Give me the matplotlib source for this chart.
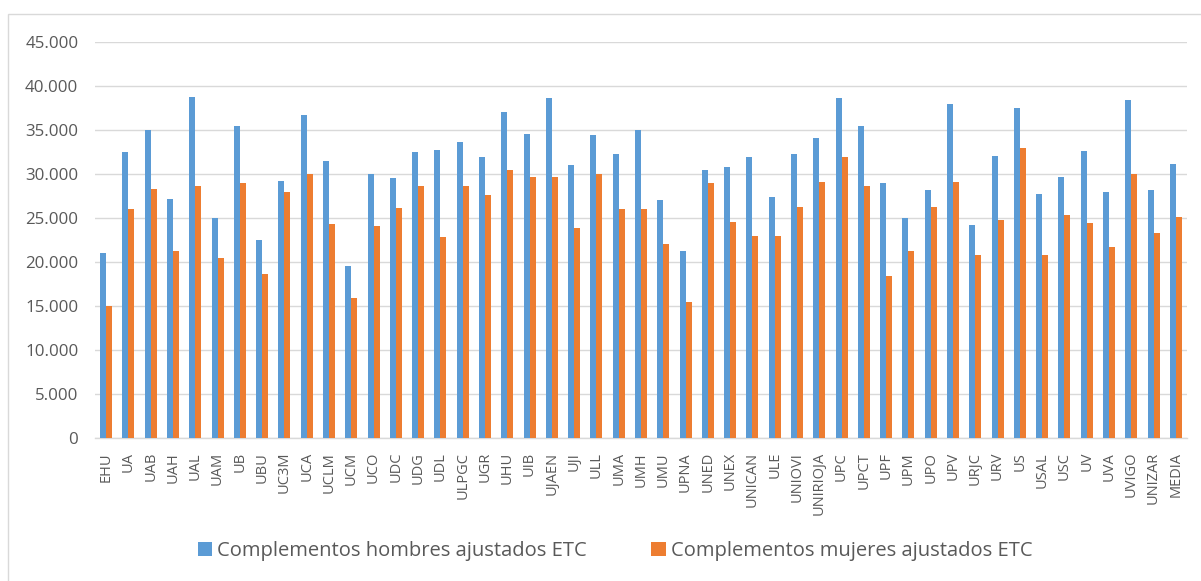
import numpy as np
import matplotlib.pyplot as plt
from matplotlib.patches import Rectangle

plt.rcParams['font.family'] = ['Open Sans', 'DejaVu Sans']

universidades = ["EHU", "UA", "UAB", "UAH", "UAL", "UAM", "UB", "UBU", "UC3M", "UCA",
                 "UCLM", "UCM", "UCO", "UDC", "UDG", "UDL", "ULPGC", "UGR", "UHU", "UIB",
                 "UJAEN", "UJI", "ULL", "UMA", "UMH", "UMU", "UPNA", "UNED", "UNEX", "UNICAN",
                 "ULE", "UNIOVI", "UNIRIOJA", "UPC", "UPCT", "UPF", "UPM", "UPO", "UPV", "URJC",
                 "URV", "US", "USAL", "USC", "UV", "UVA", "UVIGO", "UNIZAR", "MEDIA"]

hombres = [21000, 32500, 35000, 27200, 38700, 25000, 35400, 22500, 29200, 36700,
           31500, 19500, 30000, 29500, 32500, 32700, 33600, 31900, 37000, 34600,
           38600, 31000, 34400, 32300, 35000, 27000, 21300, 30400, 30800, 31900,
           27400, 32300, 34100, 38600, 35500, 29000, 25000, 28200, 37900, 24200,
           32000, 37500, 27700, 29700, 32600, 28000, 38400, 28200, 31100]

mujeres = [15000, 26000, 28300, 21200, 28600, 20400, 29000, 18600, 28000, 30000,
           24300, 15900, 24100, 26100, 28600, 22800, 28600, 27600, 30400, 29700,
           29700, 23900, 30000, 26000, 26000, 22000, 15400, 29000, 24600, 23000,
           23000, 26200, 29100, 31900, 28600, 18400, 21300, 26200, 29100, 20800,
           24800, 33000, 20800, 25300, 24400, 21700, 30000, 23300, 25100]

series_labels = ["Complementos hombres ajustados ETC", "Complementos mujeres ajustados ETC"]
yticks = np.arange(0, 45001, 5000)
ytick_labels = ["0" if v == 0 else f"{v // 1000}.000" for v in yticks]

W, H = 1201, 581
fig = plt.figure(figsize=(W / 100, H / 100), dpi=100)
fig.patch.set_facecolor("white")

# chart frame (runs off the right and bottom edges)
fig.add_artist(Rectangle((8 / W, -0.1), 1.2, (H - 14) / H + 0.1, transform=fig.transFigure,
                         fill=False, edgecolor="#d9d9d9", linewidth=1.0))

ax = fig.add_axes([95 / W, (H - 438) / H, (1187 - 95) / W, (438 - 42) / H])

x = np.arange(len(universidades))
w = 0.27
ax.bar(x - w / 2, hombres, width=w, color="#5b9bd5", label=series_labels[0], zorder=3)
ax.bar(x + w / 2, mujeres, width=w, color="#ed7d31", label=series_labels[1], zorder=3)

ax.set_xlim(-0.5, len(universidades) - 0.5)
ax.set_ylim(0, 45000)
ax.set_yticks(yticks)
ax.set_yticklabels(ytick_labels)
ax.set_xticks(x)
ax.set_xticklabels(universidades, rotation=90)

ax.grid(axis="y", color="#d9d9d9", linewidth=1.0, zorder=0)
for s in ["top", "right", "left"]:
    ax.spines[s].set_visible(False)
ax.spines["bottom"].set_color("#d9d9d9")
ax.spines["bottom"].set_linewidth(1.0)

ax.tick_params(axis="y", length=0, pad=12, labelsize=12.2, labelcolor="#595959")
ax.tick_params(axis="x", length=0, pad=10, labelsize=10.5, labelcolor="#595959")

fs = 14.5
fig.legend(loc="center left", bbox_to_anchor=(180 / W, 30 / H), ncol=2, frameon=False,
           fontsize=fs, labelcolor="#595959", handlelength=0.7, handleheight=0.7,
           handletextpad=0.25, columnspacing=3.2)

fig.savefig("out.png", dpi=100)
